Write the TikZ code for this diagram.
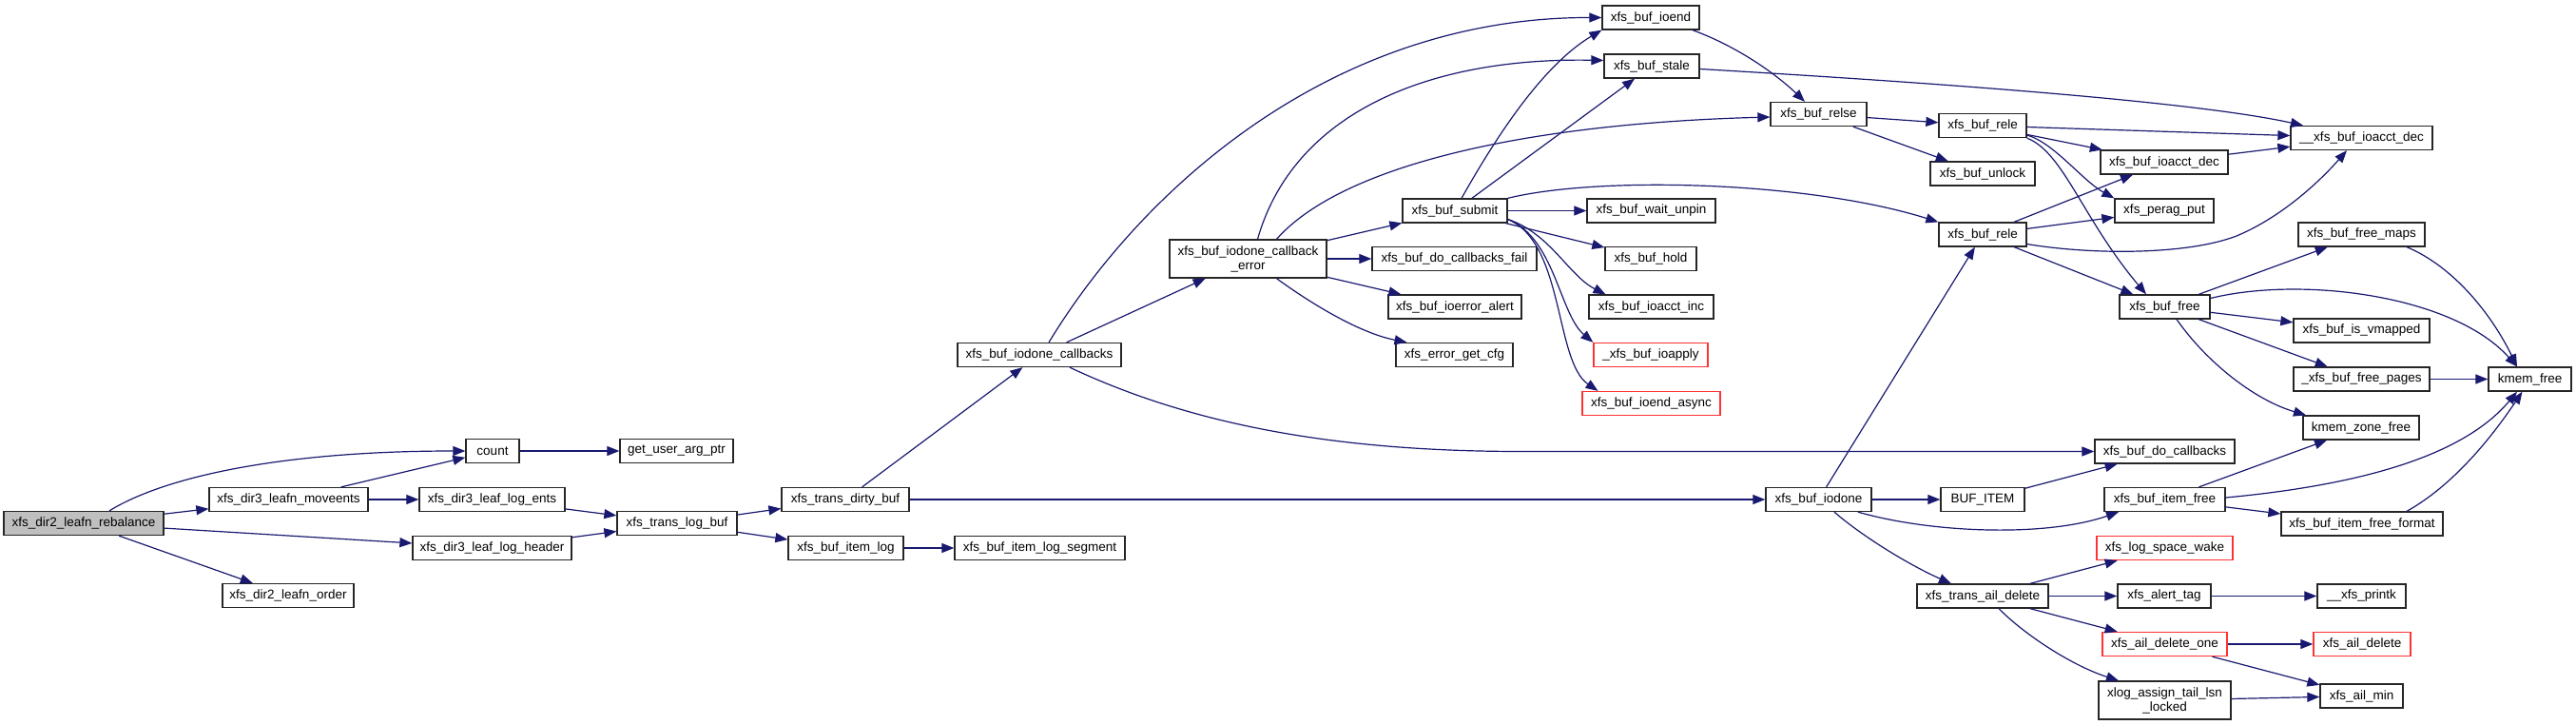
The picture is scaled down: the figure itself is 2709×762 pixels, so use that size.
\documentclass[tikz,border=0pt]{standalone}
\usepackage{fontspec}
\setmainfont{Liberation Sans}
\usetikzlibrary{arrows.meta}
\definecolor{edgec}{HTML}{191970}
\definecolor{redc}{HTML}{FF3333}
\definecolor{grayc}{HTML}{BFBFBF}
\tikzset{
  box/.style={draw=black!85, line width=1.3pt, fill=white, inner sep=0pt,
    minimum height=25pt, font=\fontsize{13.5}{15}\selectfont, align=center},
  redbox/.style={box, draw=redc},
  tallbox/.style={box, minimum height=40pt},
  e/.style={draw=edgec, line width=1.2pt, -{Triangle[length=13pt,width=10pt]}},
}
\begin{document}
\begin{tikzpicture}[x=1pt,y=-1pt]
\fill[white] (0,0) rectangle (2709,762);
\path[use as bounding box] (0,0) rectangle (2709,762);
% nodes
\node[box, minimum width=168pt, fill=grayc] (reb) at (88,550) {xfs\_dir2\_leafn\_rebalance};
\node[box, minimum width=56pt] (count) at (518,474) {count};
\node[box, minimum width=167pt] (moveents) at (303.5,525) {xfs\_dir3\_leafn\_moveents};
\node[box, minimum width=153pt] (logents) at (517.5,525) {xfs\_dir3\_leaf\_log\_ents};
\node[box, minimum width=167pt] (loghdr) at (517.5,576) {xfs\_dir3\_leaf\_log\_header};
\node[box, minimum width=138pt] (order) at (303,626) {xfs\_dir2\_leafn\_order};
\node[box, minimum width=119pt] (getuser) at (711.5,474) {get\_user\_arg\_ptr};
\node[box, minimum width=126pt] (translog) at (712,550) {xfs\_trans\_log\_buf};
\node[box, minimum width=134pt] (dirty) at (889,525) {xfs\_trans\_dirty\_buf};
\node[box, minimum width=121pt] (itemlog) at (889.5,576) {xfs\_buf\_item\_log};
\node[box, minimum width=179pt] (segment) at (1093.5,576) {xfs\_buf\_item\_log\_segment};
\node[box, minimum width=172pt] (callbacks) at (1093,373) {xfs\_buf\_iodone\_callbacks};
\node[tallbox, minimum width=165pt] (cberr) at (1312.5,272) {xfs\_buf\_iodone\_callback\\\_error};
\node[box, minimum width=102pt] (ioend) at (1736,18.5) {xfs\_buf\_ioend};
\node[box, minimum width=100pt] (stale) at (1737,69.5) {xfs\_buf\_stale};
\node[box, minimum width=101pt] (relse) at (1912.5,120) {xfs\_buf\_relse};
\node[box, minimum width=110pt] (submit) at (1530,221.5) {xfs\_buf\_submit};
\node[box, minimum width=135pt] (waitunpin) at (1736.5,221.5) {xfs\_buf\_wait\_unpin};
\node[box, minimum width=96pt] (hold) at (1736,272) {xfs\_buf\_hold};
\node[box, minimum width=173pt] (cbfail) at (1529.5,272) {xfs\_buf\_do\_callbacks\_fail};
\node[box, minimum width=140pt] (ioerr) at (1530,322.5) {xfs\_buf\_ioerror\_alert};
\node[box, minimum width=123pt] (errcfg) at (1529.5,373) {xfs\_error\_get\_cfg};
\node[box, minimum width=131pt] (acctinc) at (1736.5,322.5) {xfs\_buf\_ioacct\_inc};
\node[redbox, minimum width=120pt] (ioapply) at (1736,373) {\_xfs\_buf\_ioapply};
\node[redbox, minimum width=145pt] (ioendasync) at (1736.5,424) {xfs\_buf\_ioend\_async};
\node[box, minimum width=111pt] (iodone) at (1912.5,525) {xfs\_buf\_iodone};
\node[box, minimum width=92pt] (releA) at (2085,132) {xfs\_buf\_rele};
\node[box, minimum width=110pt] (unlock) at (2085,182.5) {xfs\_buf\_unlock};
\node[box, minimum width=149pt] (uacctdec) at (2483.5,145) {\_\_xfs\_buf\_ioacct\_dec};
\node[box, minimum width=134pt] (acctdec) at (2276,170.5) {xfs\_buf\_ioacct\_dec};
\node[box, minimum width=104pt] (perag) at (2276,221.5) {xfs\_perag\_put};
\node[box, minimum width=92pt] (releB) at (2085,246.5) {xfs\_buf\_rele};
\node[box, minimum width=133pt] (freemaps) at (2483.5,246.5) {xfs\_buf\_free\_maps};
\node[box, minimum width=95pt] (buffree) at (2276.5,322.5) {xfs\_buf\_free};
\node[box, minimum width=143pt] (vmapped) at (2483.5,347.5) {xfs\_buf\_is\_vmapped};
\node[box, minimum width=143pt] (freepages) at (2483.5,398.5) {\_xfs\_buf\_free\_pages};
\node[box, minimum width=87pt] (kmemfree) at (2660.5,398.5) {kmem\_free};
\node[box, minimum width=122pt] (zonefree) at (2483,449.5) {kmem\_zone\_free};
\node[box, minimum width=147pt] (docb) at (2276.5,474.5) {xfs\_buf\_do\_callbacks};
\node[box, minimum width=88pt] (bufitem) at (2085,525) {BUF\_ITEM};
\node[box, minimum width=127pt] (itemfree) at (2276.5,525) {xfs\_buf\_item\_free};
\node[box, minimum width=170pt] (freefmt) at (2484,550.5) {xfs\_buf\_item\_free\_format};
\node[redbox, minimum width=143pt] (logwake) at (2276.5,576) {xfs\_log\_space\_wake};
\node[box, minimum width=138pt] (traildel) at (2085,626.5) {xfs\_trans\_ail\_delete};
\node[box, minimum width=98pt] (alerttag) at (2276,626.5) {xfs\_alert\_tag};
\node[box, minimum width=93pt] (printk) at (2483.5,626.5) {\_\_xfs\_printk};
\node[redbox, minimum width=131pt] (delone) at (2276.5,677) {xfs\_ail\_delete\_one};
\node[redbox, minimum width=102pt] (aildel) at (2484,677) {xfs\_ail\_delete};
\node[tallbox, minimum width=139pt] (xlog) at (2276.5,736) {xlog\_assign\_tail\_lsn\\\_locked};
\node[box, minimum width=87pt] (ailmin) at (2483.5,731.5) {xfs\_ail\_min};
% straight edges
\draw[e] (reb) -- (moveents);
\draw[e] (reb) -- (loghdr);
\draw[e] (reb) -- (order);
\draw[e] (moveents) -- (count);
\draw[e] (moveents) -- (logents);
\draw[e] (logents) -- (translog);
\draw[e] (loghdr) -- (translog);
\draw[e] (count) -- (getuser);
\draw[e] (translog) -- (dirty);
\draw[e] (translog) -- (itemlog);
\draw[e] (itemlog) -- (segment);
\draw[e] (dirty) -- (callbacks);
\draw[e] (dirty) -- (iodone);
\draw[e] (callbacks) -- (cberr);
\draw[e] (cberr) -- (submit);
\draw[e] (cberr) -- (cbfail);
\draw[e] (cberr) -- (ioerr);
\draw[e] (submit) -- (stale);
\draw[e] (submit) -- (waitunpin);
\draw[e] (submit) -- (hold);
\draw[e] (relse) -- (releA);
\draw[e] (relse) -- (unlock);
\draw[e] (releA) -- (uacctdec);
\draw[e] (releA) -- (acctdec);
\draw[e] (releB) -- (acctdec);
\draw[e] (releB) -- (perag);
\draw[e] (releB) -- (buffree);
\draw[e] (acctdec) -- (uacctdec);
\draw[e] (buffree) -- (freemaps);
\draw[e] (buffree) -- (vmapped);
\draw[e] (buffree) -- (freepages);
\draw[e] (freepages) -- (kmemfree);
\draw[e] (iodone) -- (bufitem);
\draw[e] (iodone) -- (releB);
\draw[e] (bufitem) -- (docb);
\draw[e] (itemfree) -- (zonefree);
\draw[e] (itemfree) -- (freefmt);
\draw[e] (traildel) -- (logwake);
\draw[e] (traildel) -- (alerttag);
\draw[e] (traildel) -- (delone);
\draw[e] (alerttag) -- (printk);
\draw[e] (delone) -- (aildel);
\draw[e] (delone) -- (ailmin);
\draw[e] (xlog) -- (ailmin);
% curved edges
\draw[e] ([xshift=27pt]reb.north) .. controls (175,500) and (300,474) .. (count.west);
\draw[e] ([xshift=10pt]callbacks.north) .. controls (1200,200) and (1400,18) .. (ioend.west);
\draw[e] ([xshift=32pt]callbacks.south) .. controls (1250,445) and (1400,474.5) .. (1600,474.5) -- (docb.west);
\draw[e] ([xshift=10pt]cberr.north) .. controls (1360,120) and (1500,60) .. ([yshift=6pt]stale.west);
\draw[e] ([xshift=30pt]cberr.north) .. controls (1410,175) and (1600,130) .. ([yshift=-3pt]relse.west);
\draw[e] ([xshift=30pt]cberr.south) .. controls (1380,320) and (1430,350) .. ([xshift=-50pt]errcfg.north);
\draw[e] ([xshift=7pt]submit.north) .. controls (1570,150) and (1620,70) .. (ioend.south west);
\draw[e] (submit.north east) .. controls (1680,185) and (1900,190) .. (releB.north west);
\draw[e] ([yshift=-9pt]submit.east) .. controls (1630,245) and (1650,290) .. ([xshift=-48pt]acctinc.north);
\draw[e] ([yshift=-9pt]submit.east) .. controls (1635,250) and (1640,330) .. (ioapply.north west);
\draw[e] ([yshift=-9pt]submit.east) .. controls (1645,255) and (1635,380) .. ([xshift=-56pt]ioendasync.north);
\draw[e] ([xshift=44pt]ioend.south) .. controls (1830,50) and (1870,80) .. ([xshift=-14.5pt]relse.north);
\draw[e] ([yshift=-3pt]stale.east) .. controls (2000,85) and (2300,105) .. ([xshift=-61.5pt]uacctdec.north);
\draw[e] ([yshift=-10pt]releA.east) .. controls (2160,150) and (2190,190) .. (perag.north west);
\draw[e] (releA.south east) .. controls (2170,160) and (2190,230) .. ([xshift=-19.5pt]buffree.north);
\draw[e] ([yshift=-10pt]releB.east) .. controls (2200,268) and (2300,268) .. (2352,248) .. controls (2400,228) and (2440,190) .. ([xshift=-15.5pt]uacctdec.south);
\draw[e] ([yshift=9pt]buffree.east) .. controls (2420,290) and (2580,310) .. ([xshift=-13.5pt]kmemfree.north);
\draw[e] ([xshift=12.5pt]buffree.south) .. controls (2320,380) and (2370,420) .. ([xshift=-58pt]zonefree.north);
\draw[e] ([xshift=47.5pt]freemaps.south) .. controls (2580,280) and (2620,330) .. ([xshift=-13.5pt]kmemfree.north);
\draw[e] ([xshift=41.5pt]iodone.south) .. controls (2030,560) and (2150,565) .. ([xshift=-48.5pt]itemfree.south);
\draw[e] ([xshift=16.5pt]iodone.south) .. controls (1960,565) and (2010,595) .. ([xshift=-33pt]traildel.north);
\draw[e] ([yshift=2pt]itemfree.east) .. controls (2480,510) and (2590,480) .. ([xshift=-13.5pt]kmemfree.south);
\draw[e] ([xshift=47pt]freefmt.north) .. controls (2580,510) and (2620,460) .. ([xshift=-8pt]kmemfree.south);
\draw[e] ([xshift=17pt]traildel.south) .. controls (2130,668) and (2180,700) .. ([xshift=-48.5pt]xlog.north);
\end{tikzpicture}
\end{document}
